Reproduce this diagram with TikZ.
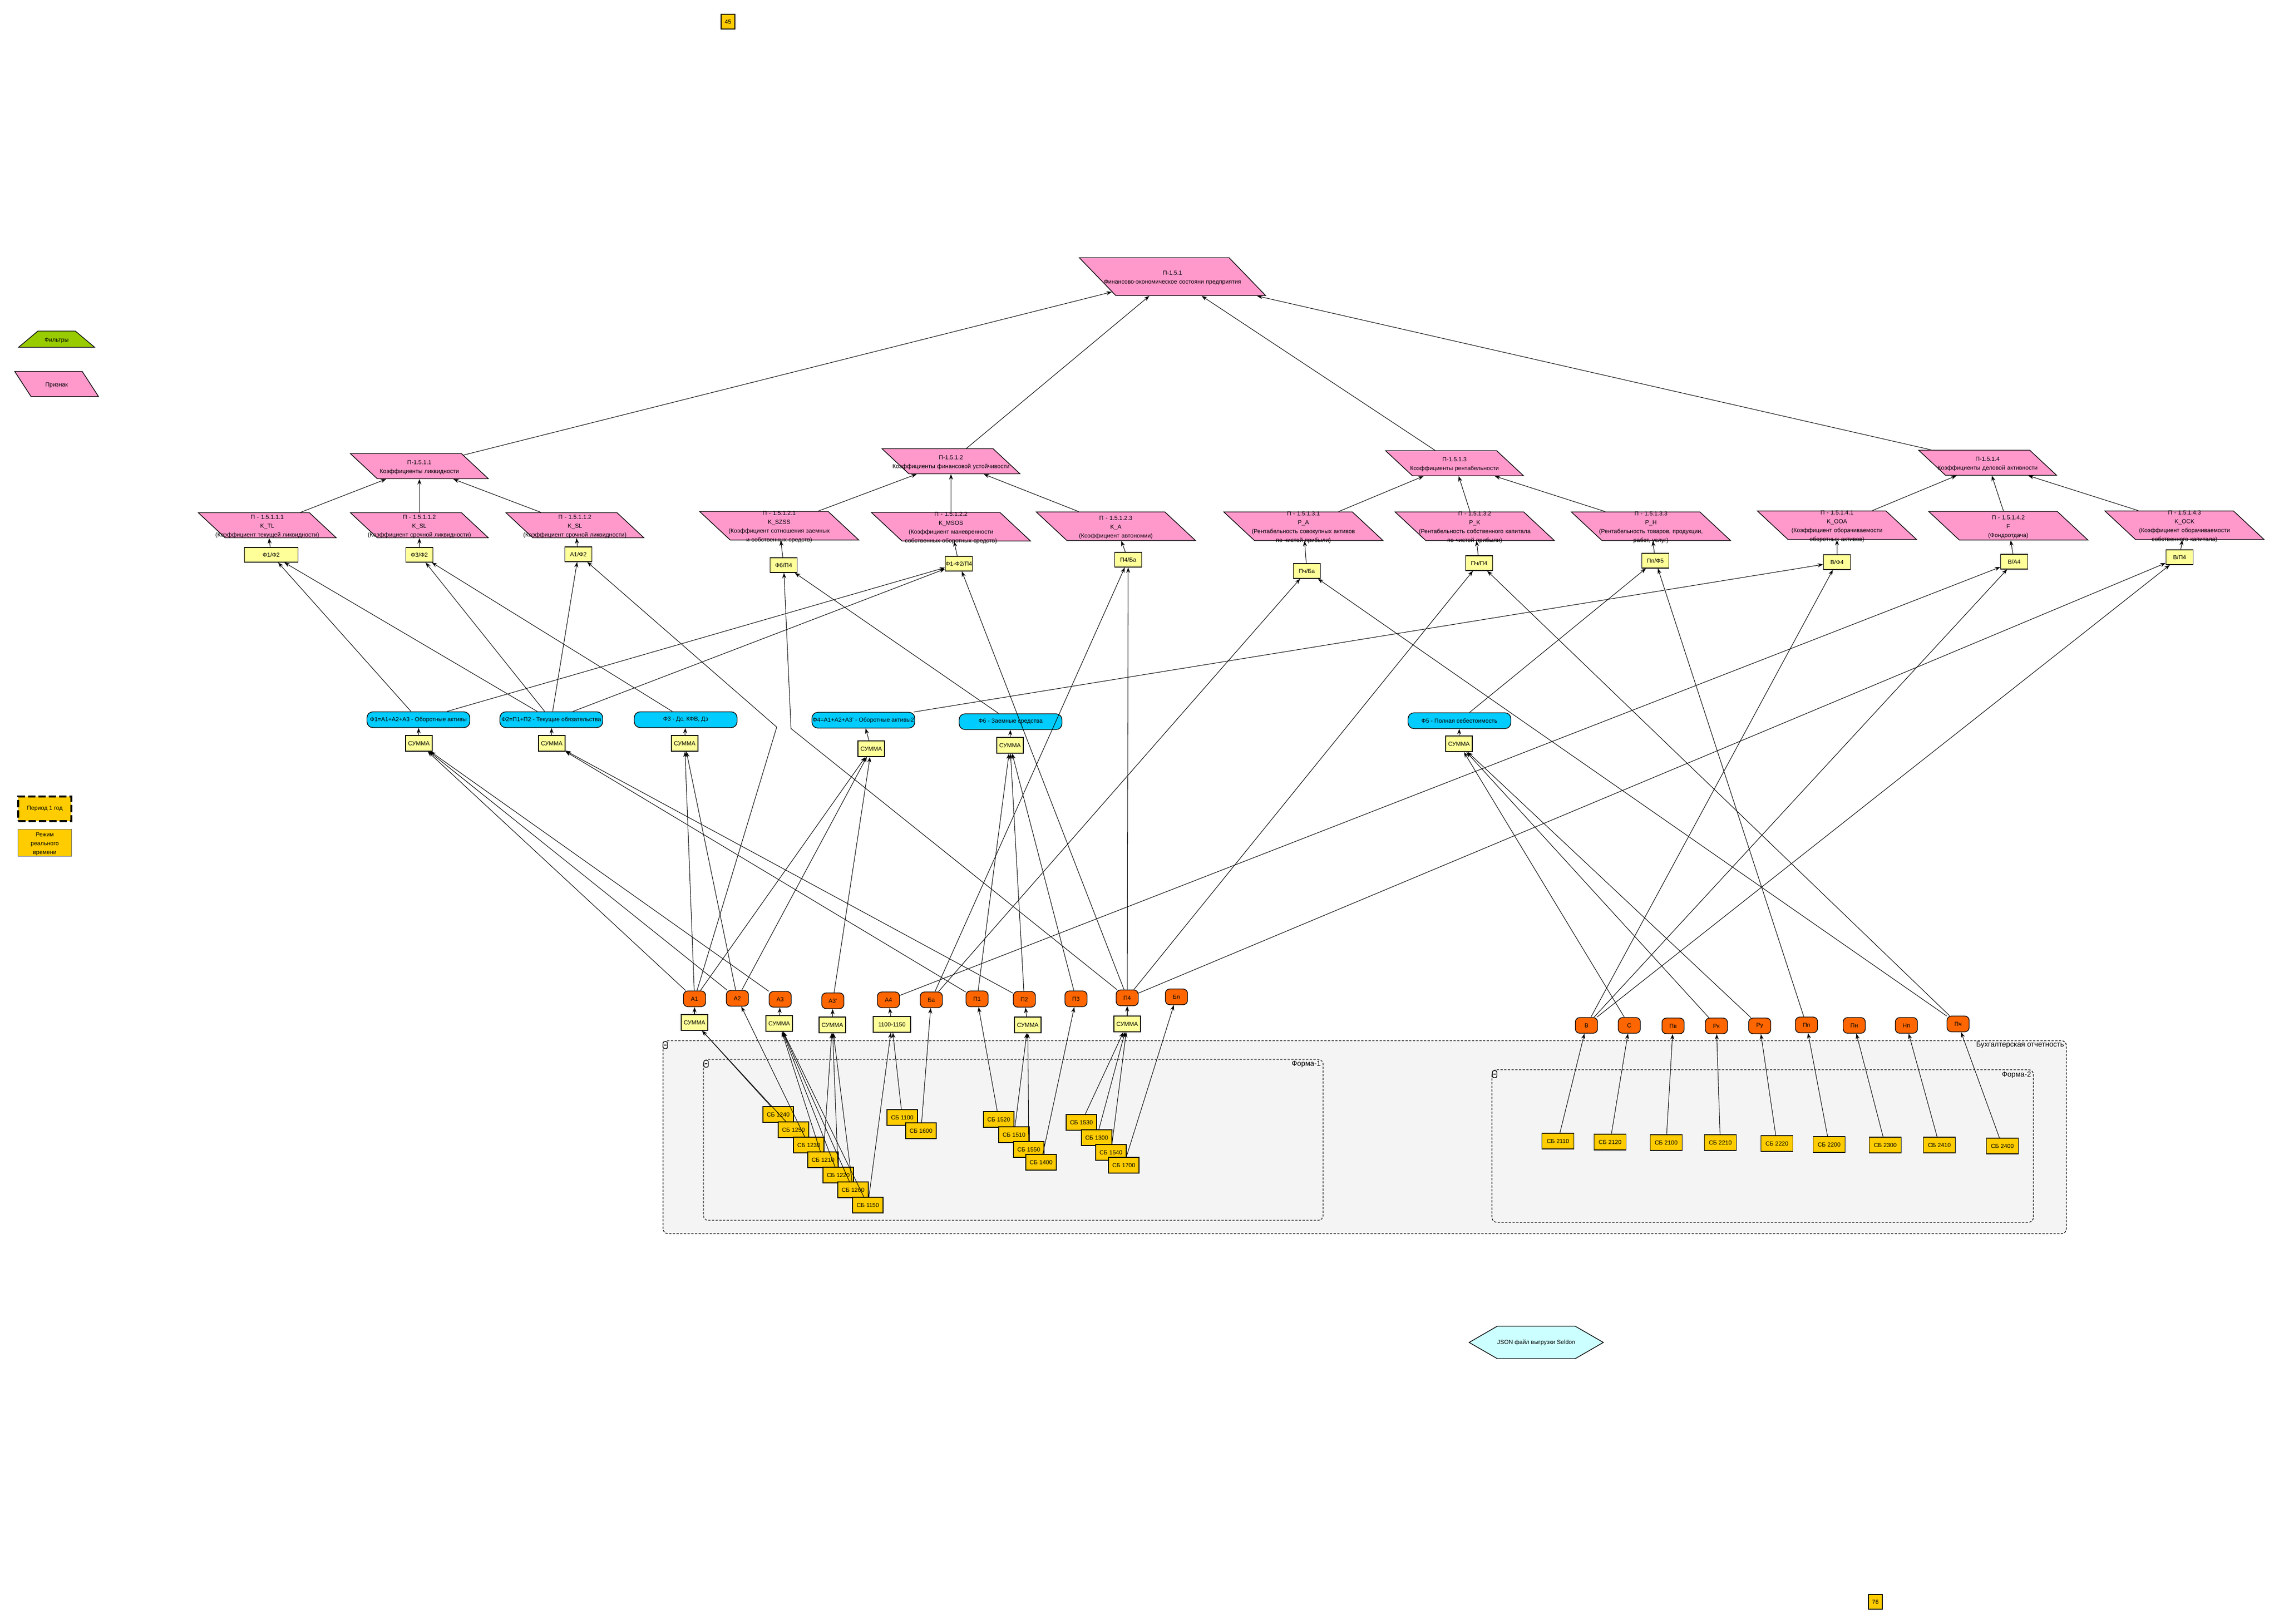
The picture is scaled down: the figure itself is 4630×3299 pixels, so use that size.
\documentclass[tikz,border=0pt]{standalone}
\usepackage{fontspec}
\setmainfont{Liberation Sans}
\usepackage{tikz}
\usetikzlibrary{shapes.geometric, shapes.symbols, arrows.meta, positioning}
\definecolor{prpink}{RGB}{255,153,204}
\definecolor{prblue}{RGB}{0,204,255}
\definecolor{prorange}{RGB}{255,102,0}
\definecolor{prgold}{RGB}{255,204,0}
\definecolor{prlight}{RGB}{255,255,153}
\definecolor{prgreen}{RGB}{153,204,0}
\definecolor{prcyan}{RGB}{204,255,255}
\definecolor{prframe}{RGB}{244,244,244}
\newcommand{\ptxt}[1]{\makebox[0pt]{\smash{\raisebox{-0.65mm}{\begin{tabular}{@{}c@{}}#1\end{tabular}}}}}

\begin{document}
\begin{tikzpicture}[
    x=0.1mm, y=-0.1mm,
    smalltxt/.style={font=\fontsize{3.4}{5.1}\selectfont},
    prizn/.style={trapezium, trapezium left angle=137, trapezium right angle=43, draw, fill=prpink, inner sep=0pt, align=center, text width=17.1mm, text height=2.55mm, text depth=2.55mm, smalltxt},
    priznw/.style={prizn, text width=19.9mm, text height=2.9mm, text depth=2.9mm},
    priznmain/.style={prizn, trapezium left angle=134, trapezium right angle=46, text width=23mm, text height=3.85mm, text depth=3.85mm},
    formula/.style={rectangle, draw, fill=prlight, inner sep=0pt, minimum width=5.5mm, minimum height=3mm, smalltxt},
    summa/.style={formula, minimum width=5.4mm, minimum height=3.2mm},
    grp/.style={rectangle, rounded corners=1.2mm, draw, fill=prblue, inner sep=0pt, minimum width=20.9mm, minimum height=3.2mm, smalltxt},
    pok/.style={rectangle, rounded corners=0.9mm, draw, fill=prorange, inner sep=0pt, minimum width=4.5mm, minimum height=3.2mm, smalltxt},
    sb/.style={rectangle, draw, fill=prgold, inner sep=0pt, minimum width=6.2mm, minimum height=3.2mm, smalltxt},
    frm/.style={draw, dash pattern=on 0.45mm off 0.3mm, fill=prframe, rounded corners=1mm, line width=0.4pt},
    frmlabel/.style={anchor=north east, inner sep=0.4mm, font=\fontsize{4.2}{5}\selectfont},
    arrow/.style={-{Stealth[length=1.1mm, width=0.8mm]}, line width=0.3pt}
]
    \useasboundingbox (0,0) rectangle (4630,3299);

    % Accounting forms (frames)
    \draw[frm] (1347,2114) rectangle (4198,2506);
    \draw[frm, draw=black!60, line width=0.6pt] (1429,2152) rectangle (2688,2479);
    \draw[frm] (3031,2173) rectangle (4131,2483);
    \node[frmlabel] (lbuh) at (4198,2112) {Бухгалтерская отчетность};
    \node[frmlabel] (lf1) at (2688,2151) {Форма-1};
    \node[frmlabel] (lf2) at (4131,2172) {Форма-2};
    \draw[fill=white, rounded corners=0.3mm] (1347,2116) rectangle ++(9,14);
    \draw[line width=0.6pt] (1349,2123) -- (1354,2123);
    \draw[fill=white, rounded corners=0.3mm] (1430,2154) rectangle ++(9,14);
    \draw[line width=0.6pt] (1432,2161) -- (1437,2161);
    \draw[fill=white, rounded corners=0.3mm] (3032,2175) rectangle ++(9,14);
    \draw[line width=0.6pt] (3034,2182) -- (3039,2182);

    % Legend
    \node[trapezium, trapezium left angle=40, trapezium right angle=40, draw, fill=prgreen, inner sep=0pt, align=center, text width=7.6mm, text height=1.65mm, text depth=1.65mm, smalltxt] (filt) at (115,689) {\ptxt{Фильтры}};
    \node[prizn, trapezium left angle=123, trapezium right angle=57, text width=10.4mm] (priz) at (115,780) {\ptxt{Признак}};
    \node[rectangle, draw, fill=prgold, dash pattern=on 1.5mm off 0.6mm, line width=1pt, minimum width=10.8mm, minimum height=5mm, inner sep=0pt, smalltxt] (period) at (91,1643) {Период 1 год};
    \node[rectangle, draw=black!55, fill=prgold, minimum width=10.9mm, minimum height=5.5mm, inner sep=0pt, smalltxt] (rezhim) at (91,1712) {\ptxt{Режим\\реального\\времени}};
    \node[sb, minimum width=2.8mm, minimum height=3mm] (n45) at (1479,44) {45};
    \node[sb, minimum width=2.8mm, minimum height=3mm] (n76) at (3810,3254) {76};
    \node[signal, signal to=east and west, signal from=nowhere, signal pointer angle=60, draw, fill=prcyan, inner sep=0pt, minimum width=23mm, minimum height=6.6mm, smalltxt] (json) at (3121,2727) {JSON файл выгрузки Seldon};

    % Top indicator
    \node[priznmain] (p151) at (2382,562) {\ptxt{П-1.5.1\\Финансово-экономическое состояни предприятия}};

    % Groups of coefficients
    \node[prizn] (p1511) at (852,947) {\ptxt{П-1.5.1.1\\Коэффициенты ликвидности}};
    \node[prizn] (p1512) at (1932,937) {\ptxt{П-1.5.1.2\\Коэффициенты финансовой устойчивости}};
    \node[prizn] (p1513) at (2955,941) {\ptxt{П-1.5.1.3\\Коэффициенты рентабельности}};
    \node[prizn] (p1514) at (4038,940) {\ptxt{П-1.5.1.4\\Коэффициенты деловой активности}};

    % Coefficients
    \node[prizn] (p15111) at (543,1067) {\ptxt{П - 1.5.1.1.1\\K\_TL\\(Коэффициент текущей ликвидности)}};
    \node[prizn] (p15112) at (852,1067) {\ptxt{П - 1.5.1.1.2\\K\_SL\\(Коэффициент срочной ликвидности)}};
    \node[prizn] (p15113) at (1168,1067) {\ptxt{П - 1.5.1.1.2\\K\_SL\\(Коэффициент срочной ликвидности)}};
    \node[priznw] (p15121) at (1583,1068) {\ptxt{П - 1.5.1.2.1\\K\_SZSS\\(Коэффициент сотношения заемных\\и собственных средств)}};
    \node[priznw] (p15122) at (1932,1070) {\ptxt{П - 1.5.1.2.2\\K\_MSOS\\(Коэффициент маневренности\\собственных оборотных средств)}};
    \node[priznw] (p15123) at (2267,1069) {\ptxt{П - 1.5.1.2.3\\K\_A\\(Коэффициент автономии)}};
    \node[priznw] (p15131) at (2648,1069) {\ptxt{П - 1.5.1.3.1\\P\_A\\(Рентабельность совокупных активов\\по чистой прибыли)}};
    \node[priznw] (p15132) at (2996,1069) {\ptxt{П - 1.5.1.3.2\\P\_K\\(Рентабельность собственного капитала\\по чистой прибыли)}};
    \node[priznw] (p15133) at (3354,1069) {\ptxt{П - 1.5.1.3.3\\P\_H\\(Рентабельность товаров, продукции,\\работ, услуг)}};
    \node[priznw] (p15141) at (3732,1067) {\ptxt{П - 1.5.1.4.1\\K\_OOA\\(Коэффициент оборачиваемости\\оборотных активов)}};
    \node[priznw] (p15142) at (4080,1068) {\ptxt{П - 1.5.1.4.2\\F\\(Фондоотдача)}};
    \node[priznw] (p15143) at (4438,1067) {\ptxt{П - 1.5.1.4.3\\K\_OCK\\(Коэффициент оборачиваемости\\собственного капитала)}};

    % Formulas
    \node[formula, minimum width=10.9mm] (f1f2) at (551,1127) {Ф1/Ф2};
    \node[formula] (f3f2) at (852,1127) {Ф3/Ф2};
    \node[formula] (a1f2) at (1175,1126) {А1/Ф2};
    \node[formula] (f6p4) at (1592,1148) {Ф6/П4};
    \node[formula] (f12p4) at (1948,1145) {Ф1-Ф2/П4};
    \node[formula] (p4ba) at (2292,1137) {П4/Ба};
    \node[formula] (pcba) at (2655,1160) {Пч/Ба};
    \node[formula] (pcp4) at (3005,1144) {Пч/П4};
    \node[formula] (ppf5) at (3363,1139) {Пп/Ф5};
    \node[formula] (vf4) at (3732,1142) {В/Ф4};
    \node[formula] (va4) at (4092,1141) {В/А4};
    \node[formula] (vp4) at (4428,1132) {В/П4};

    % Aggregates
    \node[grp] (F1) at (850,1462) {Ф1=А1+А2+А3 - Оборотные активы};
    \node[grp] (F2) at (1120,1462) {Ф2=П1+П2 - Текущие обязательства};
    \node[grp] (F3) at (1393,1462) {Ф3 - Дс, КФВ, Дз};
    \node[grp] (F4) at (1754,1463) {Ф4=А1+А2+А3' - Оборотные активы2};
    \node[grp] (F6) at (2053,1466) {Ф6 - Заемные средства};
    \node[grp] (F5) at (2965,1464) {Ф5 - Полная себестоимость};
    \node[summa] (sF1) at (851,1510) {СУММА};
    \node[summa] (sF2) at (1121,1510) {СУММА};
    \node[summa] (sF3) at (1391,1510) {СУММА};
    \node[summa] (sF4) at (1770,1521) {СУММА};
    \node[summa] (sF6) at (2052,1514) {СУММА};
    \node[summa] (sF5) at (2964,1511) {СУММА};

    % Indicators from the balance sheet
    \node[pok] (A1) at (1411,2029) {А1};
    \node[pok] (A2) at (1498,2028) {А2};
    \node[pok] (A3) at (1585,2030) {А3};
    \node[pok] (A3p) at (1692,2033) {А3'};
    \node[pok] (A4) at (1805,2031) {А4};
    \node[pok] (Ba) at (1892,2031) {Ба};
    \node[pok] (P1) at (1985,2029) {П1};
    \node[pok] (P2) at (2081,2030) {П2};
    \node[pok] (P3) at (2186,2029) {П3};
    \node[pok] (P4) at (2290,2027) {П4};
    \node[pok] (Bl) at (2390,2025) {Бл};
    \node[summa] (sA1) at (1411,2077) {СУММА};
    \node[summa] (sA3) at (1583,2079) {СУММА};
    \node[summa] (sA3p) at (1691,2082) {СУММА};
    \node[summa, minimum width=7.6mm] (sA4) at (1812,2081) {1100-1150};
    \node[summa] (sP2) at (2088,2082) {СУММА};
    \node[summa] (sP4) at (2290,2080) {СУММА};

    % Indicators from the income statement
    \node[pok] (V) at (3223,2083) {В};
    \node[pok] (C) at (3310,2083) {С};
    \node[pok] (Pv) at (3399,2084) {Пв};
    \node[pok] (Rk) at (3487,2084) {Рк};
    \node[pok] (Ru) at (3575,2084) {Ру};
    \node[pok] (Pp) at (3670,2082) {Пп};
    \node[pok] (Pn) at (3767,2083) {Пн};
    \node[pok] (Np) at (3873,2083) {Нп};
    \node[pok] (Pch) at (3978,2080) {Пч};

    % Form-1 lines
    \node[sb] (sb1240) at (1581,2264) {СБ 1240};
    \node[sb] (sb1250) at (1612,2295) {СБ 1250};
    \node[sb] (sb1230) at (1643,2326) {СБ 1230};
    \node[sb] (sb1210) at (1672,2356) {СБ 1210};
    \node[sb] (sb1220) at (1703,2387) {СБ 1220};
    \node[sb] (sb1260) at (1733,2417) {СБ 1260};
    \node[sb] (sb1150) at (1763,2448) {СБ 1150};
    \node[sb] (sb1100) at (1833,2270) {СБ 1100};
    \node[sb] (sb1600) at (1871,2297) {СБ 1600};
    \node[sb] (sb1520) at (2029,2274) {СБ 1520};
    \node[sb] (sb1510) at (2060,2305) {СБ 1510};
    \node[sb] (sb1550) at (2090,2335) {СБ 1550};
    \node[sb] (sb1400) at (2115,2361) {СБ 1400};
    \node[sb] (sb1530) at (2197,2280) {СБ 1530};
    \node[sb] (sb1300) at (2228,2311) {СБ 1300};
    \node[sb] (sb1540) at (2257,2341) {СБ 1540};
    \node[sb] (sb1700) at (2283,2367) {СБ 1700};

    % Form-2 lines
    \node[sb, minimum width=6.5mm] (sb2110) at (3165,2318) {СБ 2110};
    \node[sb, minimum width=6.5mm] (sb2120) at (3271,2320) {СБ 2120};
    \node[sb, minimum width=6.5mm] (sb2100) at (3385,2321) {СБ 2100};
    \node[sb, minimum width=6.5mm] (sb2210) at (3495,2321) {СБ 2210};
    \node[sb, minimum width=6.5mm] (sb2220) at (3610,2323) {СБ 2220};
    \node[sb, minimum width=6.5mm] (sb2200) at (3716,2325) {СБ 2200};
    \node[sb, minimum width=6.5mm] (sb2300) at (3830,2326) {СБ 2300};
    \node[sb, minimum width=6.5mm] (sb2410) at (3940,2326) {СБ 2410};
    \node[sb, minimum width=6.5mm] (sb2400) at (4068,2328) {СБ 2400};

    \coordinate (bendA1) at (1578,1477);
    \coordinate (bendP4) at (1607,1480);

    % Arrows: tree of indicators
    \draw[arrow] (p1511) -- (p151);
    \draw[arrow] (p1512) -- (p151);
    \draw[arrow] (p1513) -- (p151);
    \draw[arrow] (p1514) -- (p151);
    \draw[arrow] (p15111) -- (p1511);
    \draw[arrow] (p15112) -- (p1511);
    \draw[arrow] (p15113) -- (p1511);
    \draw[arrow] (p15121) -- (p1512);
    \draw[arrow] (p15122) -- (p1512);
    \draw[arrow] (p15123) -- (p1512);
    \draw[arrow] (p15131) -- (p1513);
    \draw[arrow] (p15132) -- (p1513);
    \draw[arrow] (p15133) -- (p1513);
    \draw[arrow] (p15141) -- (p1514);
    \draw[arrow] (p15142) -- (p1514);
    \draw[arrow] (p15143) -- (p1514);

    % Arrows: formulas
    \draw[arrow] (f1f2) -- (p15111);
    \draw[arrow] (f3f2) -- (p15112);
    \draw[arrow] (a1f2) -- (p15113);
    \draw[arrow] (f6p4) -- (p15121);
    \draw[arrow] (f12p4) -- (p15122);
    \draw[arrow] (p4ba) -- (p15123);
    \draw[arrow] (pcba) -- (p15131);
    \draw[arrow] (pcp4) -- (p15132);
    \draw[arrow] (ppf5) -- (p15133);
    \draw[arrow] (vf4) -- (p15141);
    \draw[arrow] (va4) -- (p15142);
    \draw[arrow] (vp4) -- (p15143);

    \draw[arrow] (F1) -- (f1f2);
    \draw[arrow] (F2) -- (f1f2);
    \draw[arrow] (F3) -- (f3f2);
    \draw[arrow] (F2) -- (f3f2);
    \draw[arrow] (A1) -- (bendA1) -- (a1f2);
    \draw[arrow] (F2) -- (a1f2);
    \draw[arrow] (F6) -- (f6p4);
    \draw[arrow] (P4) -- (bendP4) -- (f6p4);
    \draw[arrow] (F1) -- (f12p4);
    \draw[arrow] (F2) -- (f12p4);
    \draw[arrow] (P4) -- (f12p4);
    \draw[arrow] (P4) -- (p4ba);
    \draw[arrow] (Ba) -- (p4ba);
    \draw[arrow] (Ba) -- (pcba);
    \draw[arrow] (Pch) -- (pcba);
    \draw[arrow] (P4) -- (pcp4);
    \draw[arrow] (Pch) -- (pcp4);
    \draw[arrow] (Pp) -- (ppf5);
    \draw[arrow] (F5) -- (ppf5);
    \draw[arrow] (V) -- (vf4);
    \draw[arrow] (F4) -- (vf4);
    \draw[arrow] (V) -- (va4);
    \draw[arrow] (A4) -- (va4);
    \draw[arrow] (V) -- (vp4);
    \draw[arrow] (P4) -- (vp4);

    % Arrows: sums of aggregates
    \draw[arrow] (sF1) -- (F1);
    \draw[arrow] (sF2) -- (F2);
    \draw[arrow] (sF3) -- (F3);
    \draw[arrow] (sF4) -- (F4);
    \draw[arrow] (sF6) -- (F6);
    \draw[arrow] (sF5) -- (F5);
    \draw[arrow] (A1) -- (sF1);
    \draw[arrow] (A2) -- (sF1);
    \draw[arrow] (A3) -- (sF1);
    \draw[arrow] (P1) -- (sF2);
    \draw[arrow] (P2) -- (sF2);
    \draw[arrow] (A1) -- (sF3);
    \draw[arrow] (A2) -- (sF3);
    \draw[arrow] (A1) -- (sF4);
    \draw[arrow] (A2) -- (sF4);
    \draw[arrow] (A3p) -- (sF4);
    \draw[arrow] (P1) -- (sF6);
    \draw[arrow] (P2) -- (sF6);
    \draw[arrow] (P3) -- (sF6);
    \draw[arrow] (C) -- (sF5);
    \draw[arrow] (Rk) -- (sF5);
    \draw[arrow] (Ru) -- (sF5);

    % Arrows: balance sheet lines
    \draw[arrow] (sA1) -- (A1);
    \draw[arrow] (sA3) -- (A3);
    \draw[arrow] (sA3p) -- (A3p);
    \draw[arrow] (sA4) -- (A4);
    \draw[arrow] (sP2) -- (P2);
    \draw[arrow] (sP4) -- (P4);
    \draw[arrow] (sb1240) -- (sA1);
    \draw[arrow] (sb1250) -- (sA1);
    \draw[arrow] (sb1230) -- (A2);
    \draw[arrow] (sb1210) -- (sA3);
    \draw[arrow] (sb1220) -- (sA3);
    \draw[arrow] (sb1260) -- (sA3);
    \draw[arrow] (sb1150) -- (sA3);
    \draw[arrow] (sb1210) -- (sA3p);
    \draw[arrow] (sb1220) -- (sA3p);
    \draw[arrow] (sb1260) -- (sA3p);
    \draw[arrow] (sb1100) -- (sA4);
    \draw[arrow] (sb1150) -- (sA4);
    \draw[arrow] (sb1600) -- (Ba);
    \draw[arrow] (sb1520) -- (P1);
    \draw[arrow] (sb1510) -- (sP2);
    \draw[arrow] (sb1550) -- (sP2);
    \draw[arrow] (sb1400) -- (P3);
    \draw[arrow] (sb1530) -- (sP4);
    \draw[arrow] (sb1300) -- (sP4);
    \draw[arrow] (sb1540) -- (sP4);
    \draw[arrow] (sb1700) -- (Bl);

    % Arrows: income statement lines
    \draw[arrow] (sb2110) -- (V);
    \draw[arrow] (sb2120) -- (C);
    \draw[arrow] (sb2100) -- (Pv);
    \draw[arrow] (sb2210) -- (Rk);
    \draw[arrow] (sb2220) -- (Ru);
    \draw[arrow] (sb2200) -- (Pp);
    \draw[arrow] (sb2300) -- (Pn);
    \draw[arrow] (sb2410) -- (Np);
    \draw[arrow] (sb2400) -- (Pch);
\end{tikzpicture}
\end{document}
